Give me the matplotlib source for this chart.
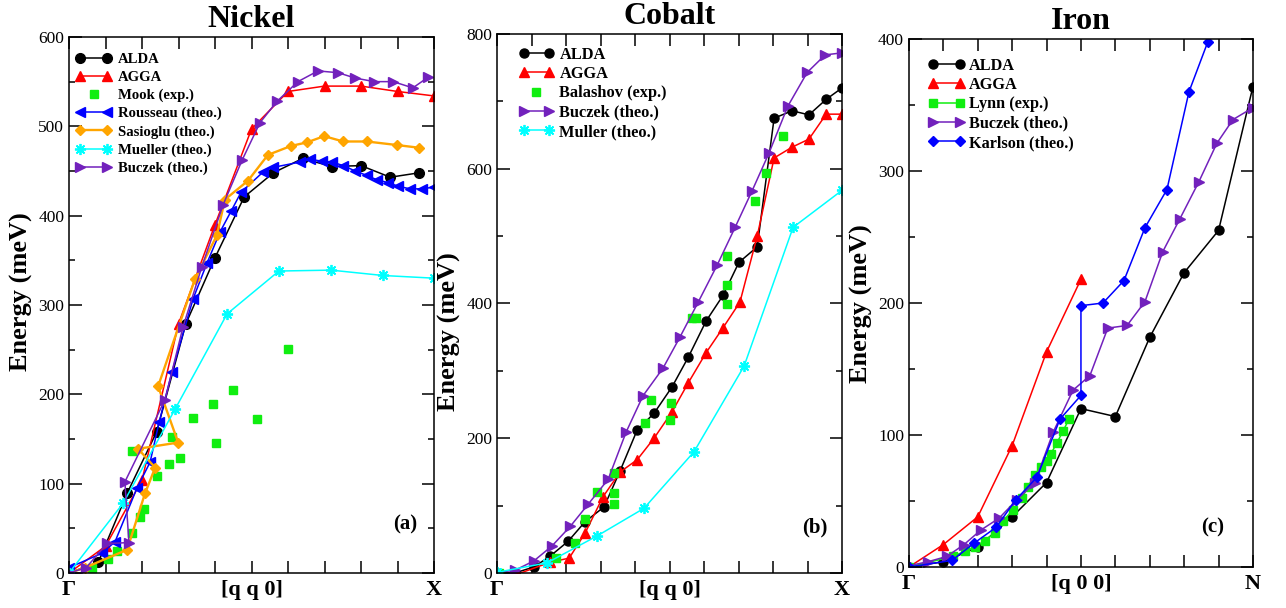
import numpy as np
import matplotlib
matplotlib.use('Agg')
import matplotlib.pyplot as plt
from matplotlib.legend_handler import HandlerLine2D
from matplotlib.ticker import MultipleLocator

plt.rcParams['font.family'] = ['Liberation Serif', 'DejaVu Serif']

# ---------------- Nickel [q q 0] ----------------
ni_alda_q = [0, 0.08, 0.16, 0.24, 0.32, 0.40, 0.48, 0.56, 0.64, 0.72, 0.80, 0.88, 0.96]
ni_alda_e = [0, 12, 90, 158, 279, 353, 421, 448, 464, 455, 456, 443, 448]

ni_agga_q = [0, 0.1, 0.2, 0.3, 0.4, 0.5, 0.6, 0.7, 0.8, 0.9, 1.0]
ni_agga_e = [0, 30, 104, 279, 390, 497, 539, 545, 545, 539, 534]

ni_mook_q = [0.062, 0.107, 0.132, 0.173, 0.173, 0.195, 0.205, 0.241, 0.274, 0.282,
             0.304, 0.340, 0.395, 0.403, 0.449, 0.515, 0.60]
ni_mook_e = [6, 16, 25, 45, 137, 63, 72, 108, 122, 152, 129, 174, 189, 146, 205, 172, 251]

ni_rousseau_q = [0, 0.09, 0.126, 0.186, 0.222, 0.247, 0.282, 0.340, 0.378, 0.414, 0.444,
                 0.471, 0.532, 0.559, 0.633, 0.660, 0.693, 0.721, 0.751, 0.784, 0.816,
                 0.844, 0.874, 0.901, 0.934, 0.967, 1.0]
ni_rousseau_e = [6, 22, 35, 95, 124, 169, 225, 307, 347, 382, 405, 426, 449, 454, 460, 463,
                 461, 460, 456, 450, 445, 440, 437, 433, 430, 430, 432]

ni_sasioglu_q = [0, 0.044, 0.159, 0.208, 0.236, 0.189, 0.299, 0.244, 0.345, 0.405, 0.427,
                 0.490, 0.545, 0.608, 0.652, 0.699, 0.751, 0.816, 0.899, 0.959]
ni_sasioglu_e = [0, 6, 26, 89, 118, 139, 146, 209, 329, 378, 418, 439, 468, 478, 482, 489,
                 483, 483, 479, 476]

ni_mueller_q = [0, 0.148, 0.290, 0.433, 0.575, 0.718, 0.860, 1.0]
ni_mueller_e = [0, 78, 183, 290, 338, 339, 333, 330]

ni_buczek_q = [0, 0.047, 0.104, 0.164, 0.153, 0.263, 0.312, 0.364, 0.422, 0.474, 0.523,
               0.570, 0.627, 0.682, 0.737, 0.784, 0.836, 0.888, 0.942, 0.984]
ni_buczek_e = [0, 6, 33, 34, 102, 194, 275, 343, 412, 462, 504, 528, 550, 562, 560, 554,
               550, 550, 543, 555]

# ---------------- Cobalt [q q 0] ----------------
co_alda_q = [0, 0.052, 0.107, 0.154, 0.206, 0.255, 0.31, 0.357, 0.406, 0.455, 0.507,
             0.554, 0.606, 0.655, 0.701, 0.754, 0.803, 0.855, 0.904, 0.954, 1.0]
co_alda_e = [0, 0, 9, 25, 47, 76, 98, 152, 212, 237, 276, 320, 374, 412, 461, 484,
             675, 686, 680, 703, 720]

co_agga_q = [0, 0.058, 0.154, 0.209, 0.255, 0.307, 0.357, 0.406, 0.455, 0.507, 0.554,
             0.606, 0.655, 0.704, 0.754, 0.803, 0.855, 0.904, 0.954, 1.0]
co_agga_e = [0, -2, 16, 22, 59, 113, 150, 168, 200, 239, 282, 327, 364, 402, 500, 616,
             632, 644, 681, 681]

co_balashov_q = [0.006, 0.171, 0.226, 0.255, 0.290, 0.339, 0.339, 0.339, 0.429, 0.446,
                 0.501, 0.504, 0.565, 0.577, 0.667, 0.667, 0.667, 0.748, 0.780, 0.829]
co_balashov_e = [0, 22, 44, 80, 120, 102, 119, 148, 223, 257, 227, 252, 378, 378, 399,
                 427, 470, 552, 594, 648]

co_buczek_q = [0, 0.052, 0.107, 0.159, 0.212, 0.264, 0.322, 0.374, 0.423, 0.481, 0.530,
               0.583, 0.638, 0.690, 0.739, 0.788, 0.843, 0.899, 0.951, 1.0]
co_buczek_e = [1, 4, 18, 40, 69, 102, 139, 209, 263, 304, 350, 402, 457, 513, 567, 623,
               693, 743, 769, 772]

co_muller_q = [0, 0.145, 0.290, 0.426, 0.571, 0.716, 0.858, 1.0]
co_muller_e = [1, 15, 55, 96, 180, 307, 513, 568]

# ---------------- Fer [q 0 0] ----------------
fe_alda_q = [0, 0.1, 0.2, 0.3, 0.4, 0.5, 0.6, 0.7, 0.8, 0.9, 1.0]
fe_alda_e = [0, 4, 15, 38, 64, 120, 114, 174, 223, 255, 364]

fe_agga_q = [0, 0.1, 0.2, 0.3, 0.4, 0.5]
fe_agga_e = [0, 17, 38, 92, 163, 218]

fe_lynn_q = [0, 0.128, 0.163, 0.192, 0.221, 0.25, 0.273, 0.302, 0.328, 0.346, 0.366,
             0.384, 0.401, 0.413, 0.430, 0.448, 0.465]
fe_lynn_e = [0, 8, 12, 15, 20, 26, 35, 43, 52, 61, 70, 76, 80, 86, 94, 103, 112]

fe_buczek_q = [0, 0.055, 0.110, 0.160, 0.209, 0.262, 0.314, 0.366, 0.419, 0.477, 0.526,
               0.578, 0.634, 0.686, 0.738, 0.788, 0.843, 0.895, 0.942, 1.0]
fe_buczek_e = [1, 4, 8, 17, 28, 37, 51, 64, 102, 134, 145, 181, 183, 201, 239, 264, 292,
               321, 339, 348]

fe_karlson_q = [0, 0.125, 0.189, 0.253, 0.311, 0.372, 0.439, 0.5, 0.5, 0.564, 0.625,
                0.686, 0.750, 0.814, 0.869]
fe_karlson_e = [0, 5, 18, 30, 51, 68, 112, 130, 198, 200, 217, 257, 286, 360, 398]

# couleurs façon xmgrace
NOIR = 'black'
ROUGE = '#ff0000'
VERT = '#10ee10'
BLEU = '#0000ff'
ORANGE = '#ffa500'
CYAN = '#00ffff'
VIOLET = '#7221bc'

lw = 1.1
etoile = (8, 2, 0)


def habiller(ax, ymax, ypas, titre, label_q, fin, lettre, pos_lettre, y_label):
    ax.set_xlim(0, 1)
    ax.set_ylim(0, ymax)
    ax.set_xticks([0, 0.5, 1])
    ax.set_xticklabels(['Γ', label_q, fin], fontsize=16, fontweight='bold')
    ax.xaxis.set_minor_locator(MultipleLocator(0.1))
    ax.yaxis.set_major_locator(MultipleLocator(ypas))
    ax.yaxis.set_minor_locator(MultipleLocator(ypas / 2))
    ax.tick_params(which='both', direction='in', top=True, right=True, width=1.1)
    ax.tick_params(axis='x', which='both', length=8.5, pad=5)
    ax.tick_params(axis='y', which='major', length=9, labelsize=12.5)
    ax.tick_params(axis='y', which='minor', length=4.5)
    for s in ax.spines.values():
        s.set_linewidth(1.1)
    ax.set_title(titre, fontsize=23, fontweight='bold', pad=7)
    ax.set_ylabel('Energy (meV)', fontsize=19, fontweight='bold', labelpad=4)
    ax.yaxis.label.set_y(y_label)
    ax.text(pos_lettre[0], pos_lettre[1], lettre, transform=ax.transAxes,
            fontsize=15, fontweight='bold', ha='center', va='center')


fig = plt.figure(figsize=(12.86, 6.08), dpi=100)
ax1 = fig.add_axes([0.0537, 0.0576, 0.2838, 0.8816])
ax2 = fig.add_axes([0.3865, 0.0576, 0.2683, 0.8865])
ax3 = fig.add_axes([0.7068, 0.0674, 0.2675, 0.8684])

# ---- Nickel
ax1.plot(ni_alda_q, ni_alda_e, '-o', color=NOIR, lw=lw, ms=7, label='ALDA')
ax1.plot(ni_agga_q, ni_agga_e, '-^', color=ROUGE, lw=lw, ms=7.5, label='AGGA')
mook, = ax1.plot(ni_mook_q, ni_mook_e, 's', color=VERT, ms=5.5, ls='none', label='Mook (exp.)')
ax1.plot(ni_rousseau_q, ni_rousseau_e, '-<', color=BLEU, lw=lw, ms=7.5, label='Rousseau (theo.)')
ax1.plot(ni_sasioglu_q, ni_sasioglu_e, '-D', color=ORANGE, lw=1.7, ms=5.5, label='Sasioglu (theo.)')
ax1.plot(ni_mueller_q, ni_mueller_e, '-', marker=etoile, color=CYAN, mec=CYAN, mew=1.3, lw=lw,
         ms=8, label='Mueller (theo.)')
ax1.plot(ni_buczek_q, ni_buczek_e, '->', color=VIOLET, lw=lw, ms=7.5, label='Buczek (theo.)')
ax1.legend(loc='upper left', bbox_to_anchor=(0.018, 0.9705), frameon=False, borderpad=0,
           borderaxespad=0, prop={'weight': 'bold', 'size': 10.6}, handlelength=2.43,
           handletextpad=0.43, labelspacing=0.32, numpoints=2,
           handler_map={mook: HandlerLine2D(numpoints=1)})
habiller(ax1, 600, 100, 'Nickel', '[q q 0]', 'X', '(a)', (0.92, 0.09), 0.524)

# ---- Cobalt
ax2.plot(co_alda_q, co_alda_e, '-o', color=NOIR, lw=lw, ms=6.5, label='ALDA')
ax2.plot(co_agga_q, co_agga_e, '-^', color=ROUGE, lw=lw, ms=7.5, label='AGGA')
bala, = ax2.plot(co_balashov_q, co_balashov_e, 's', color=VERT, ms=5.5, ls='none',
                 label='Balashov (exp.)')
ax2.plot(co_buczek_q, co_buczek_e, '->', color=VIOLET, lw=lw, ms=7.5, label='Buczek (theo.)')
ax2.plot(co_muller_q, co_muller_e, '-', marker=etoile, color=CYAN, mec=CYAN, mew=1.3, lw=lw,
         ms=8, label='Muller (theo.)')
ax2.legend(loc='upper left', bbox_to_anchor=(0.064, 0.976), frameon=False, borderpad=0,
           borderaxespad=0, prop={'weight': 'bold', 'size': 11.8}, handlelength=2.1,
           handletextpad=0.36, labelspacing=0.2, numpoints=2,
           handler_map={bala: HandlerLine2D(numpoints=1)})
habiller(ax2, 800, 200, 'Cobalt', '[q q 0]', 'X', '(b)', (0.922, 0.085), 0.447)

# ---- Fer
ax3.plot(fe_alda_q, fe_alda_e, '-o', color=NOIR, lw=lw, ms=6.5, label='ALDA')
ax3.plot(fe_agga_q, fe_agga_e, '-^', color=ROUGE, lw=lw, ms=7.5, label='AGGA')
ax3.plot(fe_lynn_q, fe_lynn_e, '-s', color=VERT, lw=lw, ms=5.5, label='Lynn (exp.)')
ax3.plot(fe_buczek_q, fe_buczek_e, '->', color=VIOLET, lw=lw, ms=7.5, label='Buczek (theo.)')
ax3.plot(fe_karlson_q, fe_karlson_e, '-D', color=BLEU, lw=lw, ms=5, label='Karlson (theo.)')
ax3.legend(loc='upper left', bbox_to_anchor=(0.055, 0.965), frameon=False, borderpad=0,
           borderaxespad=0, prop={'weight': 'bold', 'size': 11.7}, handlelength=2.25,
           handletextpad=0.3, labelspacing=0.21, numpoints=2)
habiller(ax3, 400, 100, 'Iron', '[q 0 0]', 'N', '(c)', (0.884, 0.074), 0.498)

fig.savefig('out.png', dpi=100)
